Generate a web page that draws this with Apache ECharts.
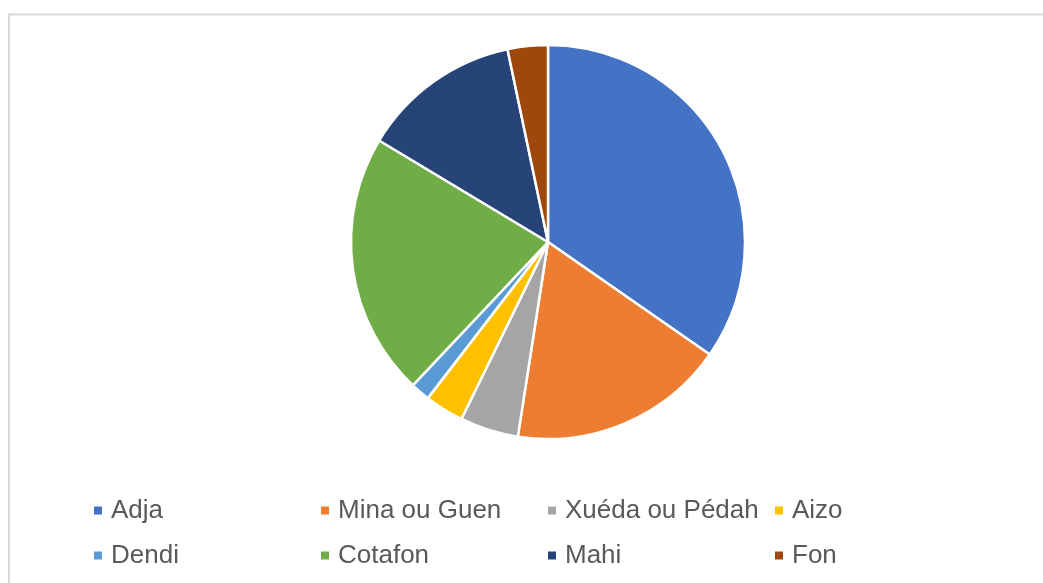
<!DOCTYPE html>
<html>
<head>
<meta charset="utf-8">
<script src="https://cdn.jsdelivr.net/npm/echarts@6/dist/echarts.min.js"></script>
<style>
html,body{margin:0;padding:0;background:#fff;}
#chart{width:1043px;height:583px;}
</style>
</head>
<body>
<div id="chart"></div>
<script>
const categories = ["Adja", "Mina ou Guen", "Xuéda ou Pédah", "Aizo", "Dendi", "Cotafon", "Mahi", "Fon"];
const values = [34.7, 17.8, 4.8, 3.2, 1.6, 21.6, 13.1, 3.3];
const colors = ["#4472C4", "#ED7D31", "#A5A5A5", "#FFC000", "#5B9BD5", "#70AD47", "#264478", "#9E480E"];

const chart = echarts.init(document.getElementById('chart'), null, {renderer: 'canvas'});
chart.setOption({
  animation: false,
  backgroundColor: '#ffffff',
  color: colors,
  graphic: [{
    type: 'rect',
    shape: {x: 9, y: 14.5, width: 1200, height: 800},
    style: {fill: 'none', stroke: '#d9d9d9', lineWidth: 2},
    silent: true
  }],
  legend: {
    left: 92,
    top: 488,
    width: 930,
    padding: 0,
    itemGap: 0,
    itemWidth: 10,
    itemHeight: 10,
    icon: 'rect',
    selectedMode: false,
    data: categories,
    textStyle: {
      fontFamily: 'Liberation Sans, Arial, sans-serif',
      fontSize: 26,
      color: '#595959',
      width: 208,
      lineHeight: 45,
      padding: [0, 0, 0, 3]
    }
  },
  series: [{
    type: 'pie',
    center: [548, 242],
    radius: [0, 197],
    startAngle: 90,
    clockwise: true,
    label: {show: false},
    labelLine: {show: false},
    emphasis: {disabled: true},
    itemStyle: {borderColor: '#ffffff', borderWidth: 2.5},
    data: categories.map((c, i) => ({name: c, value: values[i]}))
  }]
});
</script>
</body>
</html>
